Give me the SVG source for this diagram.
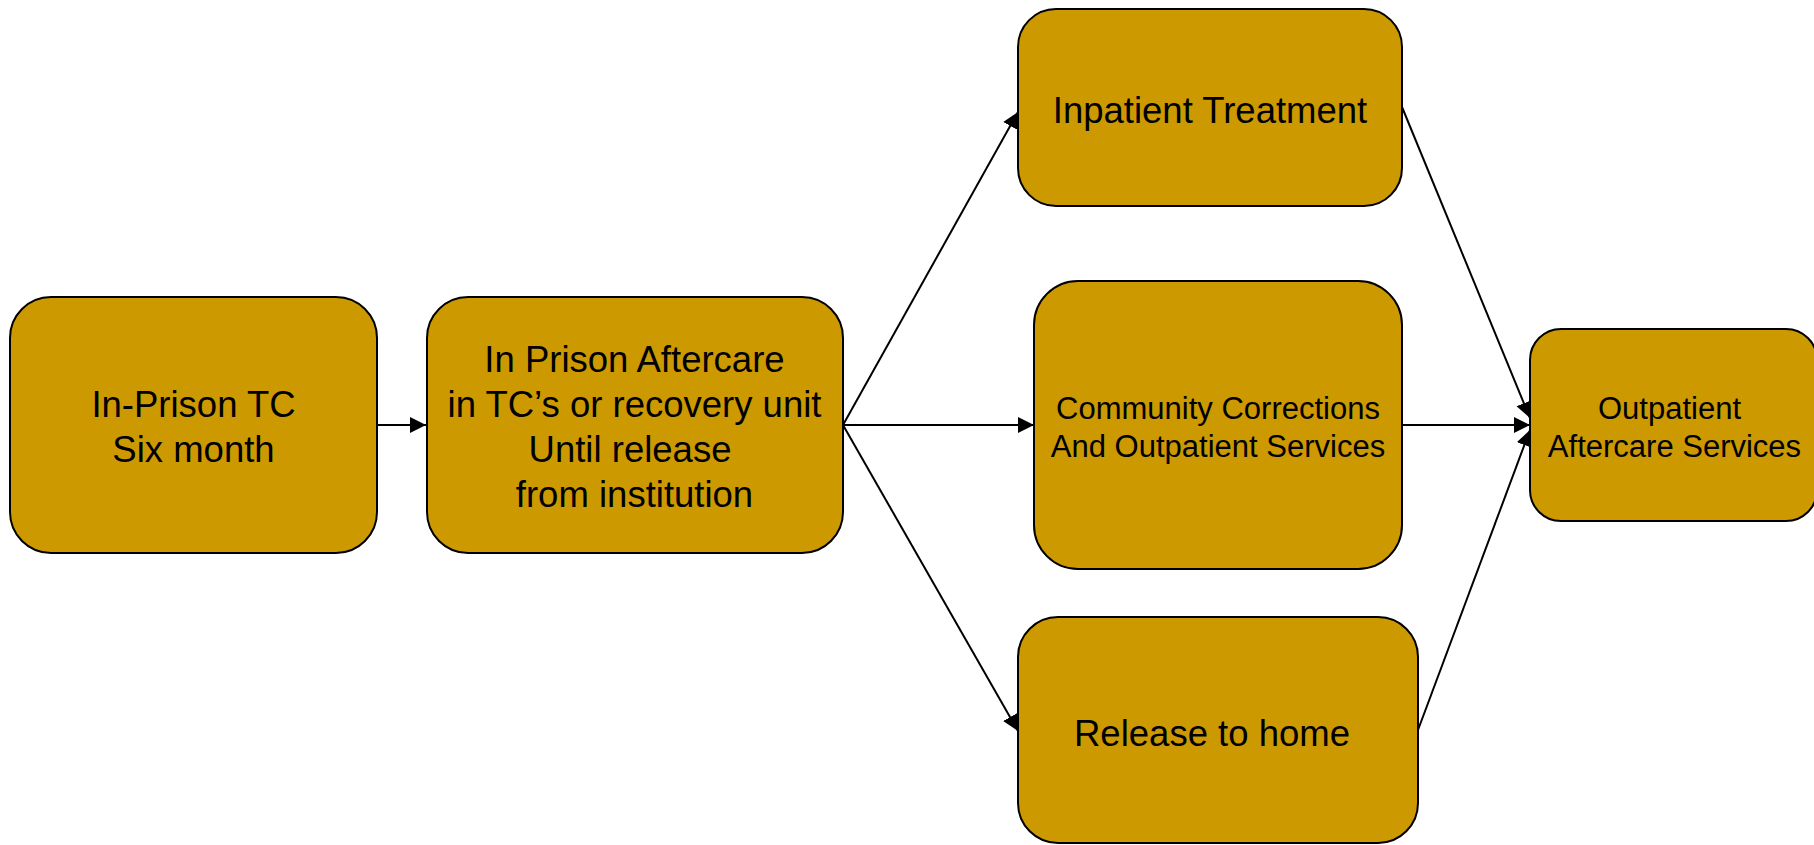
<svg xmlns="http://www.w3.org/2000/svg" width="1814" height="845" viewBox="0 0 1814 845">
<style>
.box{fill:#CC9900;stroke:#000;stroke-width:2}
.t{font-family:"Liberation Sans",Arial,sans-serif;fill:#000;text-anchor:middle}
.big{font-size:36.5px}
.small{font-size:31px}
.conn{stroke:#000;stroke-width:2;fill:none;marker-end:url(#arr)}
</style>
<defs>
<marker id="arr" markerUnits="userSpaceOnUse" markerWidth="17" markerHeight="17" viewBox="0 0 17 17" refX="16" refY="8.5" orient="auto">
<path d="M0,0.5 L16,8.5 L0,16.5 Z" fill="#000"/>
</marker>
</defs>
<rect width="1814" height="845" fill="#fff"/>
<g id="connectors">
<line class="conn" x1="377" y1="425" x2="426" y2="425"/>
<line class="conn" x1="843" y1="425" x2="1018" y2="112"/>
<line class="conn" x1="843" y1="425" x2="1034" y2="425"/>
<line class="conn" x1="843" y1="425" x2="1018" y2="731"/>
<line class="conn" x1="1402" y1="107" x2="1530" y2="418"/>
<line class="conn" x1="1402" y1="425" x2="1530" y2="425"/>
<line class="conn" x1="1418" y1="730" x2="1530" y2="430"/>
</g>
<g id="n1">
<rect class="box" x="10" y="297" width="367" height="256" rx="41" ry="41"/>
<text class="t big" x="193.5" y="417">In-Prison TC</text>
<text class="t big" x="193.5" y="462">Six month</text>
</g>
<g id="n2">
<rect class="box" x="427" y="297" width="416" height="256" rx="41" ry="41"/>
<text class="t big" x="634.5" y="372">In Prison Aftercare</text>
<text class="t big" x="634.5" y="417">in TC’s or recovery unit</text>
<text class="t big" x="630" y="462">Until release</text>
<text class="t big" x="634.5" y="507">from institution</text>
</g>
<g id="n3">
<rect class="box" x="1018" y="9" width="384" height="197" rx="38" ry="38"/>
<text class="t big" x="1210" y="123">Inpatient Treatment</text>
</g>
<g id="n4">
<rect class="box" x="1034" y="281" width="368" height="288" rx="44" ry="44"/>
<text class="t small" x="1218" y="419">Community Corrections</text>
<text class="t small" x="1218" y="457">And Outpatient Services</text>
</g>
<g id="n5">
<rect class="box" x="1018" y="617" width="400" height="226" rx="40" ry="40"/>
<text class="t big" x="1212" y="746">Release to home</text>
</g>
<g id="n6">
<rect class="box" x="1530" y="329" width="287" height="192" rx="31" ry="31"/>
<text class="t small" x="1669.5" y="419">Outpatient</text>
<text class="t small" x="1674.5" y="457">Aftercare Services</text>
</g>
</svg>
